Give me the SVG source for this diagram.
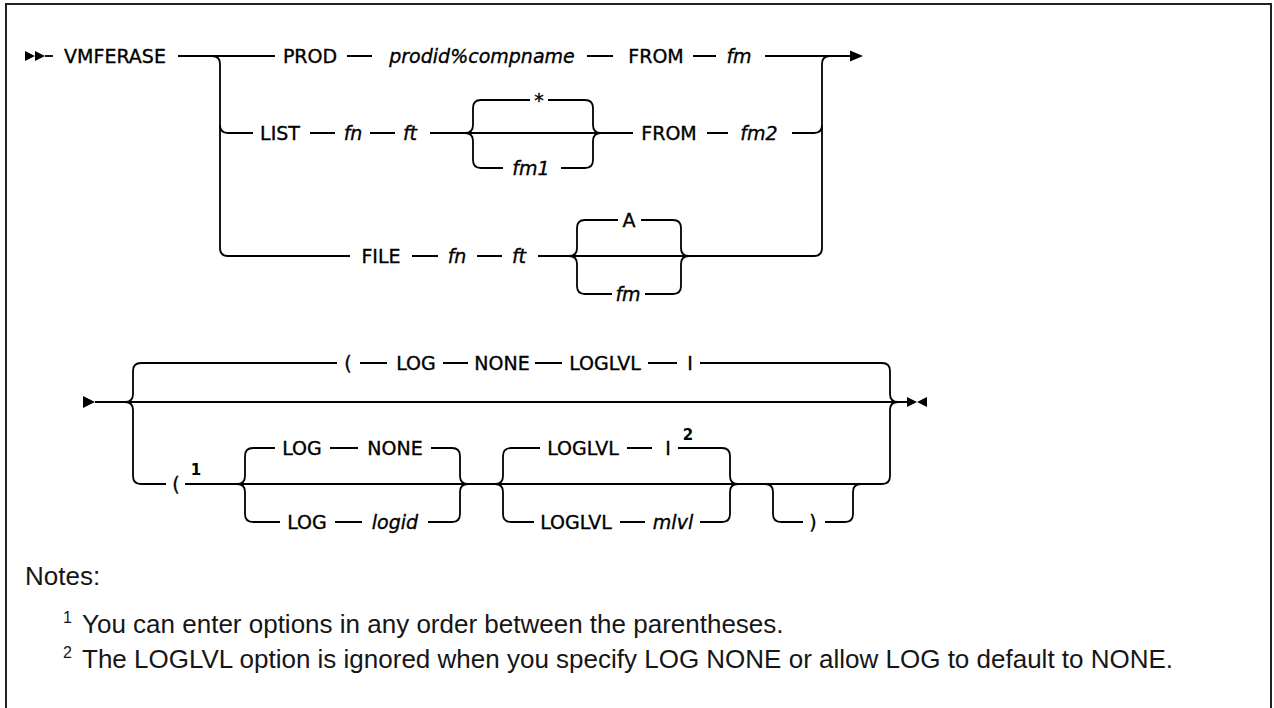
<svg xmlns="http://www.w3.org/2000/svg" width="1274" height="708" viewBox="0 0 1274 708">
<style>
.t{font-family:"DejaVu Sans",Verdana,sans-serif;font-size:19px;fill:#000;stroke:#000;stroke-width:0.35;text-anchor:middle}
.i{font-style:italic}
.sup{font-family:"DejaVu Sans",sans-serif;font-size:15px;font-weight:bold;fill:#000;text-anchor:middle}
.note{font-family:"Liberation Sans",Arial,sans-serif;font-size:26px;fill:#161616}
.nsup{font-family:"Liberation Sans",Arial,sans-serif;font-size:16px;fill:#161616}
.ln{fill:none;stroke:#000;stroke-width:1.8}
.ah{fill:#000}
.frame{fill:none;stroke:#222;stroke-width:2}
</style>
<rect width="1274" height="708" fill="#fff"/>
<path class="frame" d="M6 708 V4 H1271 V708"/>

<g id="connectors">
  <path class="ah" d="M25 51 L35 56 L25 61 Z M35 51 L45 56 L35 61 Z"/>
  <path class="ln" d="M45 56 H53"/>
  <path class="ln" d="M178 56 H275"/>
  <path class="ln" d="M212 56 Q220 56 220 64 V248 Q220 256 228 256"/>
  <path class="ln" d="M220 125 Q220 133 228 133 H253"/>
  <path class="ln" d="M347 56 H372 M587 56 H613 M693 56 H716 M765 56 H851"/>
  <path class="ah" d="M850 50.5 L863 56 L850 61.5 Z"/>
  <path class="ln" d="M830 56 Q822 56 822 64 V248 Q822 256 814 256"/>
  <path class="ln" d="M792 133 H814 Q822 133 822 125"/>
  <path class="ln" d="M310 133 H335 M370 133 H395 M430 133 H633 M707 133 H728"/>
  <path class="ln" d="M465 133 Q473 133 473 125 V108 Q473 100 481 100 H530 M548 100 H585 Q593 100 593 108 V125 Q593 133 601 133"/>
  <path class="ln" d="M465 133 Q473 133 473 141 V160 Q473 168 481 168 H503 M561 168 H585 Q593 168 593 160 V141 Q593 133 601 133"/>
  <path class="ln" d="M228 256 H350 M412 256 H438 M477 256 H502 M538 256 H814"/>
  <path class="ln" d="M569 256 Q577 256 577 248 V228 Q577 220 585 220 H618 M641 220 H673 Q681 220 681 228 V248 Q681 256 689 256"/>
  <path class="ln" d="M569 256 Q577 256 577 264 V286 Q577 294 585 294 H612 M645 294 H673 Q681 294 681 286 V264 Q681 256 689 256"/>

  <path class="ah" d="M83 396 L95 402 L83 408 Z"/>
  <path class="ln" d="M95 402 H907"/>
  <path class="ln" d="M125 402 Q133 402 133 394 V371 Q133 363 141 363 H337 M360 363 H387 M443 363 H468 M535 363 H562 M648 363 H677 M700 363 H882 Q890 363 890 371 V394 Q890 402 898 402"/>
  <path class="ln" d="M125 402 Q133 402 133 410 V476 Q133 484 141 484 H166 M185 484 H882 Q890 484 890 476 V410 Q890 402 898 402"/>
  <path class="ah" d="M907 397 L917 402 L907 407 Z M927 397 L917 402 L927 407 Z"/>
  <path class="ln" d="M237 484 Q245 484 245 476 V456 Q245 448 253 448 H275 M330 448 H358 M431 448 H452 Q460 448 460 456 V476 Q460 484 468 484"/>
  <path class="ln" d="M237 484 Q245 484 245 492 V514 Q245 522 253 522 H280 M335 522 H362 M428 522 H452 Q460 522 460 514 V492 Q460 484 468 484"/>
  <path class="ln" d="M495 484 Q503 484 503 476 V456 Q503 448 511 448 H540 M627 448 H652 M678 448 H722 Q730 448 730 456 V476 Q730 484 738 484"/>
  <path class="ln" d="M495 484 Q503 484 503 492 V514 Q503 522 511 522 H534 M620 522 H645 M700 522 H722 Q730 522 730 514 V492 Q730 484 738 484"/>
  <path class="ln" d="M765 484 Q773 484 773 492 V514 Q773 522 781 522 H803 M825 522 H845 Q853 522 853 514 V492 Q853 484 861 484"/>
</g>

<g id="n-vmferase"><text class="t" x="115" y="63">VMFERASE</text></g>
<g id="n-prod"><text class="t" x="310" y="63">PROD</text></g>
<g id="n-prodid"><text class="t i" x="482" y="63">prodid%compname</text></g>
<g id="n-from1"><text class="t" x="656" y="63">FROM</text></g>
<g id="n-fm1a"><text class="t i" x="739" y="63">fm</text></g>

<g id="n-list"><text class="t" x="280" y="140">LIST</text></g>
<g id="n-fn1"><text class="t i" x="353" y="140">fn</text></g>
<g id="n-ft1"><text class="t i" x="410" y="140">ft</text></g>
<g id="n-star"><text class="t" x="539" y="107">*</text></g>
<g id="n-fm1"><text class="t i" x="531" y="175">fm1</text></g>
<g id="n-from2"><text class="t" x="669" y="140">FROM</text></g>
<g id="n-fm2"><text class="t i" x="759" y="140">fm2</text></g>

<g id="n-file"><text class="t" x="381" y="263">FILE</text></g>
<g id="n-fn2"><text class="t i" x="457" y="263">fn</text></g>
<g id="n-ft2"><text class="t i" x="519" y="263">ft</text></g>
<g id="n-a"><text class="t" x="629" y="227">A</text></g>
<g id="n-fm3"><text class="t i" x="628" y="301">fm</text></g>

<g id="n-paren-top"><text class="t" x="348" y="370">(</text></g>
<g id="n-log-top"><text class="t" x="416" y="370">LOG</text></g>
<g id="n-none-top"><text class="t" x="502" y="370">NONE</text></g>
<g id="n-loglvl-top"><text class="t" x="605" y="370">LOGLVL</text></g>
<g id="n-i-top"><text class="t" x="690" y="370">I</text></g>

<g id="n-paren-open"><text class="t" x="176" y="491">(</text><text class="sup" x="196" y="475">1</text></g>
<g id="n-log-none"><text class="t" x="302" y="455">LOG</text><text class="t" x="395" y="455">NONE</text></g>
<g id="n-log-logid"><text class="t" x="307" y="529">LOG</text><text class="t i" x="395" y="529">logid</text></g>
<g id="n-loglvl-i"><text class="t" x="583" y="455">LOGLVL</text><text class="t" x="668" y="455">I</text><text class="sup" x="688" y="440">2</text></g>
<g id="n-loglvl-mlvl"><text class="t" x="576" y="529">LOGLVL</text><text class="t i" x="673" y="529">mlvl</text></g>
<g id="n-paren-close"><text class="t" x="813" y="529">)</text></g>

<g id="notes">
  <text class="note" x="25" y="585">Notes:</text>
  <text class="nsup" x="63" y="623">1</text>
  <text class="note" x="82" y="633">You can enter options in any order between the parentheses.</text>
  <text class="nsup" x="63" y="658">2</text>
  <text class="note" x="82" y="668">The LOGLVL option is ignored when you specify LOG NONE or allow LOG to default to NONE.</text>
</g>
</svg>
